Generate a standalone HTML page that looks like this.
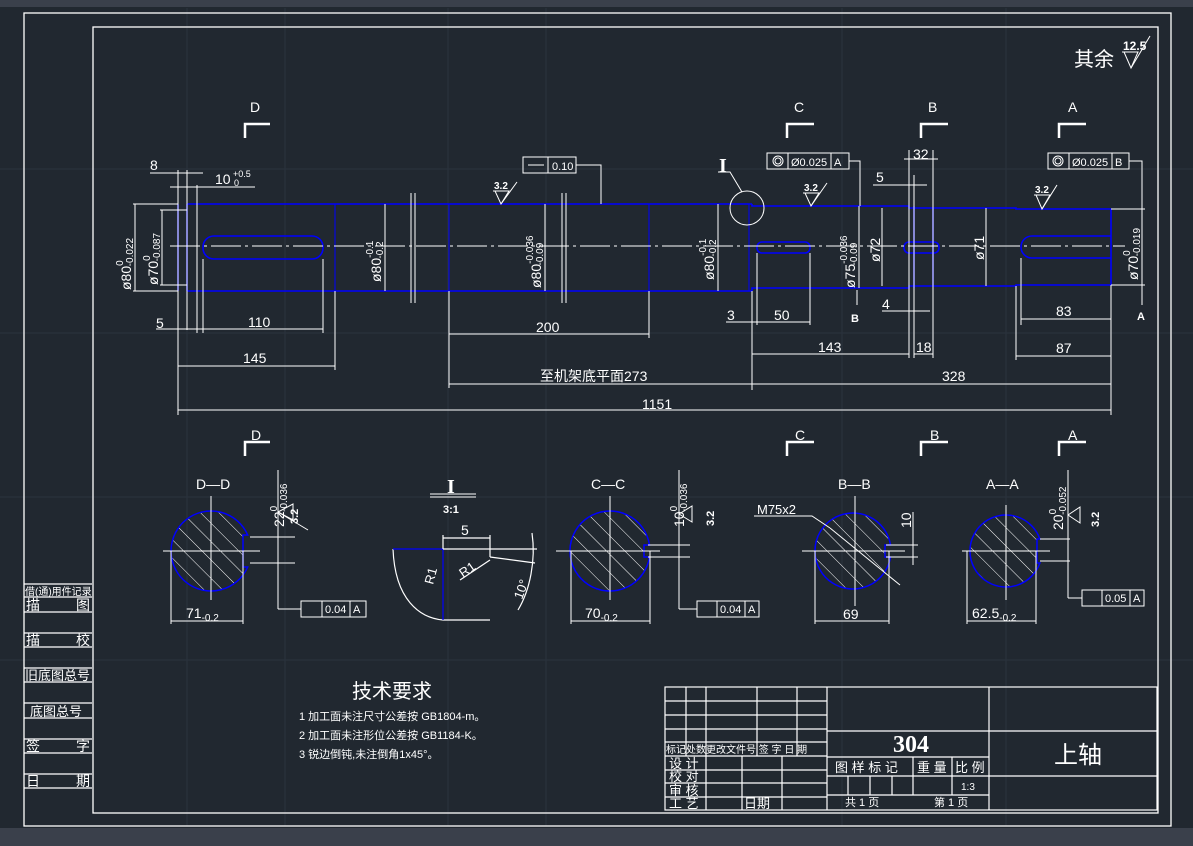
<!DOCTYPE html>
<html><head><meta charset="utf-8"><style>
html,body{margin:0;padding:0;background:#212830;}
svg{display:block}
text{font-family:"Liberation Sans","Noto Sans CJK SC",sans-serif;fill:#fff}
text.serif{font-family:"Liberation Serif",serif}
</style></head><body>
<svg width="1193" height="846" viewBox="0 0 1193 846" xmlns="http://www.w3.org/2000/svg">
<defs>
<pattern id="h" patternUnits="userSpaceOnUse" width="13" height="13" patternTransform="rotate(-45)">
<line x1="0" y1="0" x2="0" y2="13" stroke="#fff" stroke-width="1"/></pattern>
<clipPath id="c1"><path d="M243,535 L243,567 L247.7,567 A40,40 0 1 1 247.7,535 Z"/></clipPath>
<clipPath id="c2"><path d="M644,545 L644,557 L649.5,557 A40,40 0 1 1 649.5,545 Z"/></clipPath>
<clipPath id="c3"><path d="M885,545 L885,557 L890.5,557 A38,38 0 1 1 890.5,545 Z"/></clipPath>
<clipPath id="c4"><path d="M1037,539 L1037,563 L1039.9,563 A36,36 0 1 1 1039.9,539 Z"/></clipPath>
</defs>
<rect width="1193" height="846" fill="#212830"/>
<rect x="0" y="0" width="1193" height="7" fill="#3a404b"/>
<rect x="0" y="828" width="1193" height="18" fill="#3a404b"/>
<g stroke="#2b333e" stroke-width="1">
<line x1="187" y1="8" x2="187" y2="826"/><line x1="285" y1="8" x2="285" y2="826"/><line x1="448" y1="8" x2="448" y2="826"/><line x1="546" y1="8" x2="546" y2="826"/><line x1="842" y1="8" x2="842" y2="826"/><line x1="1006" y1="8" x2="1006" y2="826"/>
<line x1="0" y1="169" x2="1193" y2="169"/><line x1="0" y1="333" x2="1193" y2="333"/><line x1="0" y1="497" x2="1193" y2="497"/><line x1="0" y1="660" x2="1193" y2="660"/>
</g>
<g fill="none" stroke="#fff" stroke-width="1.3">
<rect x="24" y="13" width="1147" height="813"/>
<rect x="93" y="27" width="1065" height="786"/>
</g>
<g stroke="#fff" stroke-width="1.2" fill="none">
<line x1="24" y1="584" x2="92" y2="584"/><line x1="24" y1="597" x2="92" y2="597"/><line x1="24" y1="612" x2="92" y2="612"/><line x1="24" y1="633" x2="92" y2="633"/><line x1="24" y1="647" x2="92" y2="647"/><line x1="24" y1="668" x2="92" y2="668"/><line x1="24" y1="682" x2="92" y2="682"/><line x1="24" y1="703" x2="92" y2="703"/><line x1="24" y1="718" x2="92" y2="718"/><line x1="24" y1="739" x2="92" y2="739"/><line x1="24" y1="753" x2="92" y2="753"/><line x1="24" y1="774" x2="92" y2="774"/><line x1="24" y1="788" x2="92" y2="788"/>
</g>
<g font-size="14">
<text x="25" y="595" font-size="10">借(通)用件记录</text>
<text x="26" y="610">描</text><text x="76" y="610">图</text>
<text x="26" y="645">描</text><text x="76" y="645">校</text>
<text x="25" y="680" font-size="13">旧底图总号</text>
<text x="30" y="716" font-size="13">底图总号</text>
<text x="26" y="751">签</text><text x="76" y="751">字</text>
<text x="26" y="786">日</text><text x="76" y="786">期</text>
</g>
<text x="1074" y="66" font-size="20">其余</text>
<text x="1123" y="50" font-size="12" font-weight="bold">12.5</text>
<polyline points="1122,52 1138,52 1131,68 1124,52" fill="none" stroke="#fff"/>
<line x1="1131" y1="68" x2="1150" y2="36" stroke="#fff"/>
<g stroke="#fff" stroke-width="2.5" fill="none">
<polyline points="245,138 245,124 270,124"/><polyline points="787,138 787,124 814,124"/><polyline points="921,138 921,124 948,124"/><polyline points="1059,138 1059,124 1086,124"/>
<polyline points="245,456 245,442 270,442"/><polyline points="787,456 787,442 814,442"/><polyline points="921,456 921,442 948,442"/><polyline points="1059,456 1059,442 1086,442"/>
</g>
<g font-size="14">
<text x="250" y="112">D</text><text x="794" y="112">C</text><text x="928" y="112">B</text><text x="1068" y="112">A</text>
<text x="251" y="440">D</text><text x="795" y="440">C</text><text x="930" y="440">B</text><text x="1068" y="440">A</text>
</g>
<g fill="none" stroke="#0000ff" stroke-width="1.6">
<polyline points="187,204 752,204"/><polyline points="187,291 752,291"/>
<line x1="178" y1="204" x2="178" y2="291"/><line x1="187" y1="204" x2="187" y2="291"/>
<polyline points="752,204 752,206 909,206 909,208 1016,208 1016,209 1111,209 1111,285 1016,285 1016,286 909,286 909,288 752,288 752,291"/>
<line x1="914" y1="206" x2="914" y2="288"/><line x1="933" y1="208" x2="933" y2="286"/>
<line x1="449" y1="204" x2="449" y2="291" stroke-width="1"/><line x1="649" y1="204" x2="649" y2="291" stroke-width="1"/><line x1="335" y1="204" x2="335" y2="291" stroke-width="1"/><line x1="197" y1="204" x2="197" y2="291" stroke-width="1"/><line x1="749" y1="204" x2="749" y2="291" stroke-width="1"/>
<rect x="203" y="236" width="120" height="23" rx="11"/>
<rect x="757" y="242" width="53" height="11" rx="5"/>
<rect x="904" y="242" width="35" height="11" rx="5"/>
<path d="M1111,236 L1032,236 A11,11 0 0 0 1032,258 L1111,258"/>
</g>
<g stroke="#fff" stroke-width="1" fill="none">
<line x1="170" y1="246" x2="1125" y2="246" stroke-dasharray="30,4,3,4"/>
<line x1="411" y1="193" x2="411" y2="303"/><line x1="415" y1="193" x2="415" y2="303"/>
<line x1="562" y1="193" x2="562" y2="303"/><line x1="566" y1="193" x2="566" y2="303"/>
<line x1="133" y1="204" x2="178" y2="204"/><line x1="133" y1="291" x2="178" y2="291"/><line x1="135" y1="204" x2="135" y2="291"/>
<line x1="160" y1="210" x2="187" y2="210"/><line x1="160" y1="285" x2="187" y2="285"/><line x1="162" y1="210" x2="162" y2="285"/>
<line x1="178" y1="170" x2="178" y2="415"/><line x1="187" y1="170" x2="187" y2="330"/><line x1="197" y1="185" x2="197" y2="333"/>
<line x1="150" y1="173" x2="203" y2="173"/><line x1="170" y1="187" x2="255" y2="187"/>
<line x1="203" y1="259" x2="203" y2="333"/><line x1="323" y1="259" x2="323" y2="333"/><line x1="335" y1="291" x2="335" y2="370"/>
<line x1="156" y1="329" x2="323" y2="329"/><line x1="178" y1="366" x2="335" y2="366"/>
<line x1="449" y1="291" x2="449" y2="388"/><line x1="649" y1="291" x2="649" y2="338"/>
<line x1="449" y1="334" x2="649" y2="334"/><line x1="449" y1="384" x2="752" y2="384"/><line x1="752" y1="384" x2="1111" y2="384"/>
<line x1="178" y1="410" x2="1111" y2="410"/>
<line x1="385" y1="204" x2="385" y2="291"/><line x1="545" y1="204" x2="545" y2="291"/><line x1="718" y1="204" x2="718" y2="291"/>
<line x1="859" y1="206" x2="859" y2="288"/><line x1="882" y1="208" x2="882" y2="286"/><line x1="986" y1="208" x2="986" y2="286"/>
<line x1="1142" y1="200" x2="1142" y2="290"/><line x1="1111" y1="209" x2="1145" y2="209"/><line x1="1111" y1="285" x2="1145" y2="285"/>
<line x1="752" y1="291" x2="752" y2="390"/><line x1="757" y1="253" x2="757" y2="325"/><line x1="810" y1="253" x2="810" y2="325"/>
<line x1="726" y1="322" x2="810" y2="322"/><line x1="752" y1="354" x2="909" y2="354"/>
<line x1="909" y1="150" x2="909" y2="358"/><line x1="914" y1="175" x2="914" y2="358"/><line x1="933" y1="150" x2="933" y2="358"/>
<line x1="904" y1="159" x2="938" y2="159"/><line x1="873" y1="185" x2="927" y2="185"/>
<line x1="882" y1="311" x2="930" y2="311"/><line x1="914" y1="354" x2="933" y2="354"/>
<line x1="1016" y1="286" x2="1016" y2="360"/><line x1="1021" y1="258" x2="1021" y2="325"/><line x1="1111" y1="285" x2="1111" y2="415"/>
<line x1="1021" y1="319" x2="1111" y2="319"/><line x1="1016" y1="356" x2="1111" y2="356"/>
<polyline points="576,165 601,165 601,204"/><polyline points="849,161 860,161 860,206"/><polyline points="1129,161 1142,161 1142,209"/>
<circle cx="747" cy="208" r="17"/><polyline points="718,172 730,172 742,192"/>
<line x1="857" y1="290" x2="857" y2="305"/><line x1="1142" y1="290" x2="1142" y2="305"/>
</g>
<g fill="#fff" font-size="14">
<text x="150" y="170">8</text><text x="215" y="184">10</text><text x="233" y="177" font-size="9">+0.5</text><text x="234" y="186" font-size="9">0</text>
<text x="156" y="328">5</text><text x="248" y="327">110</text><text x="243" y="363">145</text>
<text x="536" y="332">200</text><text x="540" y="381">至机架底平面273</text><text x="942" y="381">328</text><text x="642" y="409">1151</text>
<text x="727" y="320">3</text><text x="774" y="320">50</text><text x="818" y="352">143</text><text x="916" y="352">18</text>
<text x="876" y="182">5</text><text x="913" y="159">32</text><text x="882" y="309">4</text>
<text x="1056" y="316">83</text><text x="1056" y="353">87</text>
<text class="serif" x="719" y="172" font-size="20" font-weight="bold">I</text>
<text x="851" y="322" font-size="11" font-weight="bold">B</text><text x="1137" y="320" font-size="11" font-weight="bold">A</text>
<g font-size="14">
<text transform="translate(131,290) rotate(-90)">ø80<tspan dy="-8" font-size="10">0</tspan><tspan dx="-6" dy="10" font-size="10">-0.022</tspan></text>
<text transform="translate(158,285) rotate(-90)">ø70<tspan dy="-8" font-size="10">0</tspan><tspan dx="-6" dy="10" font-size="10">-0.087</tspan></text>
<text transform="translate(381,282) rotate(-90)">ø80<tspan dy="-8" font-size="10">-0.1</tspan><tspan dx="-18" dy="10" font-size="10">-0.2</tspan></text>
<text transform="translate(541,288) rotate(-90)">ø80<tspan dy="-8" font-size="10">-0.036</tspan><tspan dx="-30" dy="10" font-size="10">-0.09</tspan></text>
<text transform="translate(714,280) rotate(-90)">ø80<tspan dy="-8" font-size="10">-0.1</tspan><tspan dx="-18" dy="10" font-size="10">-0.2</tspan></text>
<text transform="translate(855,288) rotate(-90)">ø75<tspan dy="-8" font-size="10">-0.036</tspan><tspan dx="-30" dy="10" font-size="10">-0.09</tspan></text>
<text transform="translate(880,262) rotate(-90)">ø72</text>
<text transform="translate(984,260) rotate(-90)">ø71</text>
<text transform="translate(1138,280) rotate(-90)">ø70<tspan dy="-8" font-size="10">0</tspan><tspan dx="-6" dy="10" font-size="10">-0.019</tspan></text>
</g>
</g>
<g fill="none" stroke="#fff" stroke-width="1">
<rect x="523" y="157" width="53" height="16"/><line x1="548" y1="157" x2="548" y2="173"/><line x1="528" y1="165" x2="544" y2="165"/>
<rect x="767" y="153" width="82" height="16"/><line x1="788" y1="153" x2="788" y2="169"/><line x1="831" y1="153" x2="831" y2="169"/><circle cx="778" cy="161" r="5"/><circle cx="778" cy="161" r="3"/>
<rect x="1048" y="153" width="81" height="16"/><line x1="1069" y1="153" x2="1069" y2="169"/><line x1="1112" y1="153" x2="1112" y2="169"/><circle cx="1058" cy="161" r="5"/><circle cx="1058" cy="161" r="3"/>
<polyline points="493,191 509,191 501,204 495,191"/><line x1="501" y1="204" x2="517" y2="182"/>
<polyline points="803,193 819,193 811,206 805,193"/><line x1="811" y1="206" x2="827" y2="183"/>
<polyline points="1034,195 1050,195 1042,209 1036,195"/><line x1="1042" y1="209" x2="1057" y2="185"/>
</g>
<g fill="#fff" font-size="11">
<text x="552" y="170">0.10</text><text x="791" y="166">Ø0.025</text><text x="834" y="166">A</text>
<text x="1072" y="166">Ø0.025</text><text x="1115" y="166">B</text>
<text x="494" y="189" font-weight="bold" font-size="10">3.2</text><text x="804" y="191" font-weight="bold" font-size="10">3.2</text><text x="1035" y="193" font-weight="bold" font-size="10">3.2</text>
</g>
<g font-size="14">
<text x="196" y="489">D—D</text><text x="591" y="489">C—C</text><text x="838" y="489">B—B</text><text x="986" y="489">A—A</text>
</g>
<rect x="160" y="500" width="100" height="100" fill="url(#h)" clip-path="url(#c1)"/>
<rect x="560" y="500" width="100" height="100" fill="url(#h)" clip-path="url(#c2)"/>
<rect x="810" y="505" width="90" height="95" fill="url(#h)" clip-path="url(#c3)"/>
<rect x="960" y="505" width="90" height="95" fill="url(#h)" clip-path="url(#c4)"/>
<g fill="none" stroke="#0000ff" stroke-width="1.5">
<path d="M243,535 L243,567 L247.7,567 A40,40 0 1 1 247.7,535 Z"/>
<path d="M644,545 L644,557 L649.5,557 A40,40 0 1 1 649.5,545 Z"/>
<path d="M885,545 L885,557 L890.5,557 A38,38 0 1 1 890.5,545 Z"/>
<path d="M1037,539 L1037,563 L1039.9,563 A36,36 0 1 1 1039.9,539 Z"/>
</g>
<g stroke="#fff" fill="none" stroke-width="1">
<line x1="163" y1="551" x2="260" y2="551"/><line x1="211" y1="496" x2="211" y2="600"/>
<line x1="556" y1="551" x2="660" y2="551"/><line x1="610" y1="496" x2="610" y2="600"/>
<line x1="802" y1="551" x2="905" y2="551"/><line x1="855" y1="496" x2="855" y2="606"/>
<line x1="962" y1="551" x2="1050" y2="551"/><line x1="1006" y1="505" x2="1006" y2="600"/>
<line x1="171" y1="551" x2="171" y2="624"/><line x1="243" y1="551" x2="243" y2="624"/><line x1="171" y1="621" x2="243" y2="621"/>
<line x1="250" y1="537" x2="295" y2="537"/><line x1="250" y1="563" x2="295" y2="563"/><line x1="278" y1="470" x2="278" y2="609"/>
<polyline points="278,609 301,609"/><rect x="301" y="601" width="65" height="16"/><line x1="322" y1="601" x2="322" y2="617"/><line x1="350" y1="601" x2="350" y2="617"/>
<polyline points="278,512 293,504 293,520 278,512"/><line x1="278" y1="512" x2="308" y2="530"/>
<line x1="571" y1="551" x2="571" y2="624"/><line x1="650" y1="551" x2="650" y2="624"/><line x1="571" y1="621" x2="650" y2="621"/>
<line x1="648" y1="545" x2="690" y2="545"/><line x1="648" y1="557" x2="690" y2="557"/><line x1="679" y1="470" x2="679" y2="609"/>
<polyline points="679,609 697,609"/><rect x="697" y="601" width="62" height="16"/><line x1="717" y1="601" x2="717" y2="617"/><line x1="745" y1="601" x2="745" y2="617"/>
<polyline points="679,514 692,506 692,522 679,514"/>
<line x1="815" y1="551" x2="815" y2="624"/><line x1="889" y1="551" x2="889" y2="624"/><line x1="815" y1="621" x2="889" y2="621"/>
<line x1="886" y1="545" x2="918" y2="545"/><line x1="886" y1="557" x2="918" y2="557"/><line x1="913" y1="512" x2="913" y2="565"/>
<polyline points="754,516 812,516 830,528"/><line x1="830" y1="528" x2="900" y2="585"/>
<line x1="967" y1="551" x2="967" y2="624"/><line x1="1036" y1="551" x2="1036" y2="624"/><line x1="967" y1="621" x2="1036" y2="621"/>
<line x1="1040" y1="539" x2="1070" y2="539"/><line x1="1040" y1="561" x2="1070" y2="561"/><line x1="1068" y1="470" x2="1068" y2="598"/>
<polyline points="1068,598 1082,598"/><rect x="1082" y="590" width="62" height="16"/><line x1="1102" y1="590" x2="1102" y2="606"/><line x1="1130" y1="590" x2="1130" y2="606"/>
<polyline points="1068,515 1080,507 1080,523 1068,515"/>
</g>
<g font-size="14">
<text x="186" y="618">71<tspan font-size="10" dy="3">-0.2</tspan></text>
<text x="585" y="618">70<tspan font-size="10" dy="3">-0.2</tspan></text>
<text x="843" y="619">69</text>
<text x="972" y="618">62.5<tspan font-size="10" dy="3">-0.2</tspan></text>
<text x="757" y="514" font-size="13">M75x2</text>
<text x="325" y="613" font-size="11">0.04</text><text x="353" y="613" font-size="11">A</text>
<text x="720" y="613" font-size="11">0.04</text><text x="748" y="613" font-size="11">A</text>
<text x="1105" y="602" font-size="11">0.05</text><text x="1133" y="602" font-size="11">A</text>
<text transform="translate(284,527) rotate(-90)">22<tspan font-size="10" dy="-7">0</tspan><tspan font-size="10" dx="-6" dy="10">-0.036</tspan></text>
<text transform="translate(684,527) rotate(-90)">10<tspan font-size="10" dy="-7">0</tspan><tspan font-size="10" dx="-6" dy="10">-0.036</tspan></text>
<text transform="translate(1063,530) rotate(-90)">20<tspan font-size="10" dy="-7">0</tspan><tspan font-size="10" dx="-6" dy="10">-0.052</tspan></text>
<text transform="translate(911,528) rotate(-90)">10</text>
<text transform="translate(298,524) rotate(-90)" font-size="11" font-weight="bold">3.2</text>
<text transform="translate(714,526) rotate(-90)" font-size="11" font-weight="bold">3.2</text>
<text transform="translate(1099,527) rotate(-90)" font-size="11" font-weight="bold">3.2</text>
</g>
<text class="serif" x="447" y="493" font-size="20" font-weight="bold">I</text>
<line x1="430" y1="494" x2="476" y2="494" stroke="#fff"/><line x1="430" y1="497" x2="476" y2="497" stroke="#fff"/>
<text x="443" y="513" font-size="11" font-weight="bold">3:1</text>
<g fill="none" stroke-width="1.2">
<path d="M393,549 C395,600 420,618 443,620" stroke="#fff"/>
<line x1="443" y1="620" x2="490" y2="620" stroke="#fff"/>
<polyline points="393,549 443,549 443,620 M490,620 490,557 446,549" stroke="#0000ff"/>
<line x1="443" y1="549" x2="537" y2="549" stroke="#fff"/><line x1="490" y1="557" x2="535" y2="563" stroke="#fff"/>
<line x1="443" y1="535" x2="443" y2="549" stroke="#fff"/><line x1="490" y1="535" x2="490" y2="557" stroke="#fff"/><line x1="443" y1="538" x2="490" y2="538" stroke="#fff"/>
<line x1="460" y1="580" x2="490" y2="560" stroke="#fff"/>
<path d="M532,533 C536,560 530,590 518,610" stroke="#fff"/>
</g>
<text x="461" y="535" font-size="14">5</text>
<text transform="translate(433,585) rotate(-75)" font-size="13">R1</text>
<text transform="translate(463,578) rotate(-35)" font-size="13">R1</text>
<text transform="translate(522,600) rotate(-70)" font-size="13">10°</text>
<text x="352" y="698" font-size="20">技术要求</text>
<g font-size="11" fill="#ddd">
<text x="299" y="720">1 加工面未注尺寸公差按 GB1804-m。</text>
<text x="299" y="739">2 加工面未注形位公差按 GB1184-K。</text>
<text x="299" y="758">3 锐边倒钝,未注倒角1x45°。</text>
</g>
<g stroke="#fff" stroke-width="1.2" fill="none">
<rect x="665" y="687" width="492" height="123"/>
<line x1="827" y1="687" x2="827" y2="810"/><line x1="989" y1="687" x2="989" y2="810"/>
<line x1="665" y1="701" x2="827" y2="701"/><line x1="665" y1="715" x2="827" y2="715"/><line x1="665" y1="729" x2="827" y2="729"/><line x1="665" y1="742" x2="827" y2="742"/><line x1="665" y1="756" x2="827" y2="756"/>
<line x1="665" y1="770" x2="827" y2="770"/><line x1="665" y1="783" x2="827" y2="783"/><line x1="665" y1="797" x2="827" y2="797"/>
<line x1="686" y1="687" x2="686" y2="756"/><line x1="706" y1="687" x2="706" y2="756"/><line x1="757" y1="687" x2="757" y2="756"/><line x1="797" y1="687" x2="797" y2="756"/>
<line x1="706" y1="756" x2="706" y2="810"/><line x1="742" y1="756" x2="742" y2="810"/><line x1="782" y1="756" x2="782" y2="810"/>
<line x1="827" y1="731" x2="1157" y2="731"/><line x1="827" y1="757" x2="989" y2="757"/><line x1="827" y1="776" x2="1157" y2="776"/><line x1="827" y1="795" x2="989" y2="795"/>
<line x1="913" y1="757" x2="913" y2="795"/><line x1="952" y1="757" x2="952" y2="795"/>
<line x1="848" y1="776" x2="848" y2="795"/><line x1="870" y1="776" x2="870" y2="795"/><line x1="892" y1="776" x2="892" y2="795"/>
</g>
<text x="666" y="753" font-size="10">标记处数更改文件号 签  字 日 期</text>
<g font-size="13">
<text x="669" y="768">设 计</text><text x="669" y="781">校 对</text><text x="669" y="795">审 核</text><text x="669" y="808">工 艺</text>
<text x="744" y="808">日期</text>
<text x="835" y="772">图 样 标 记</text><text x="917" y="772">重 量</text><text x="955" y="772">比 例</text>
<text x="961" y="790" font-size="10">1:3</text>
<text x="845" y="806" font-size="11">共 1 页</text><text x="934" y="806" font-size="11">第 1 页</text>
</g>
<text class="serif" x="893" y="752" font-size="24" font-weight="bold">304</text>
<text x="1054" y="763" font-size="24">上轴</text>
</svg>
</body></html>
